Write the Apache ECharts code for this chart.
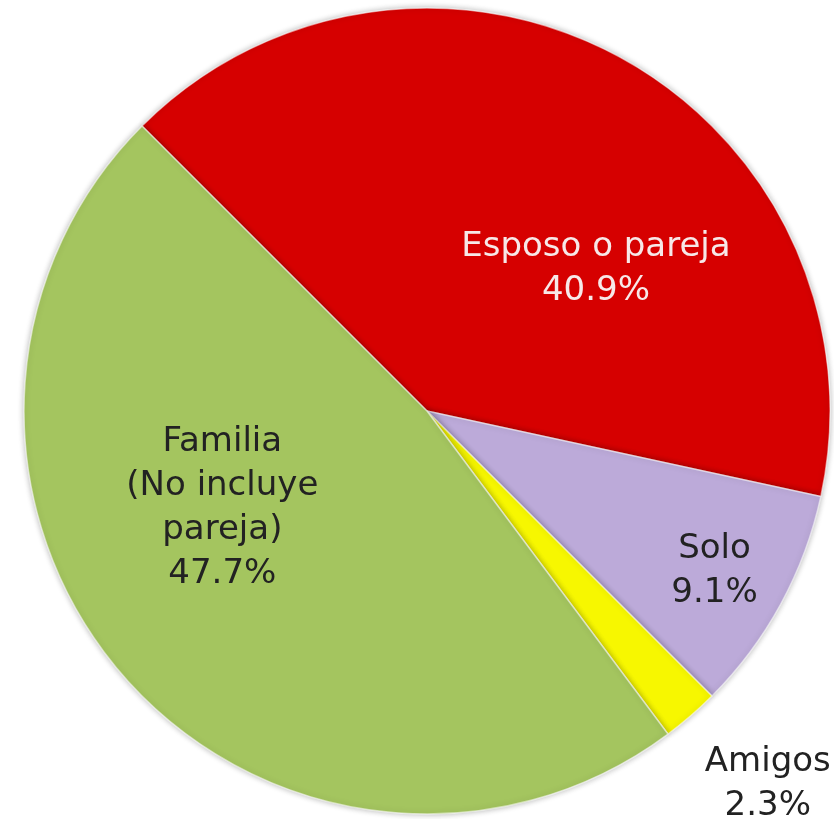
<!DOCTYPE html>
<html>
<head>
<meta charset="utf-8">
<script src="https://cdn.jsdelivr.net/npm/echarts@6/dist/echarts.min.js"></script>
<style>html,body{margin:0;padding:0;background:#fff}#c{width:834px;height:819px}</style>
</head>
<body>
<div id="c"></div>
<script>
var categories = ['Esposo o pareja', 'Solo', 'Amigos', 'Familia\n(No incluye\npareja)'];
var values = [40.9, 9.1, 2.3, 47.7];
var colors = ['#d60000', '#bcaad9', '#f7f700', '#a4c55f'];
var labelColors = ['#f7e8e8', '#222222', '#222222', '#222222'];
var labelOffsets = [[71, 38], [108, 62], [207, 219], [-50, -37]];

var chart = echarts.init(document.getElementById('c'), null, {renderer: 'canvas'});
var data = categories.map(function (c, i) {
  return {
    name: c,
    value: values[i],
    itemStyle: {color: colors[i]},
    label: {color: labelColors[i], offset: labelOffsets[i]}
  };
});
chart.setOption({
  animation: false,
  series: [{
    type: 'pie',
    center: [427, 411],
    radius: [0, 403],
    startAngle: 135,
    clockwise: true,
    avoidLabelOverlap: false,
    data: data,
    itemStyle: {
      borderColor: 'rgba(255,255,255,0.55)',
      borderWidth: 1.5,
      shadowColor: 'rgba(0,0,0,0.3)',
      shadowBlur: 6
    },
    label: {
      show: true,
      position: 'inside',
      fontFamily: 'DejaVu Sans',
      fontSize: 34,
      lineHeight: 44,
      align: 'center',
      formatter: function (p) { return p.name + '\n' + p.value.toFixed(1) + '%'; }
    },
    labelLine: {show: false},
    emphasis: {disabled: true}
  }]
});
</script>
</body>
</html>
